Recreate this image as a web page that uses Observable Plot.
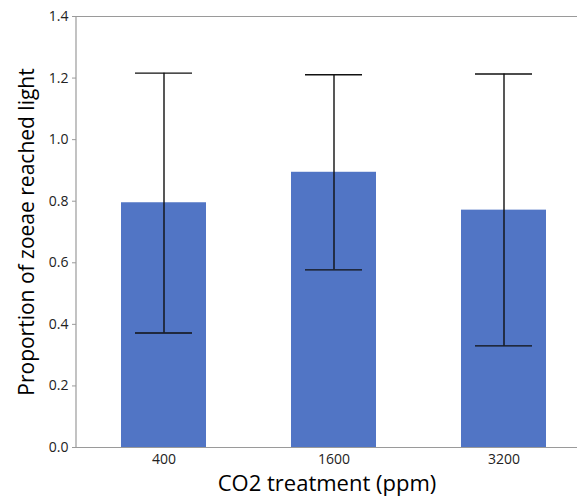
<!DOCTYPE html>
<html>
<head>
<meta charset="utf-8">
<script src="https://cdn.jsdelivr.net/npm/d3@7"></script>
<script src="https://cdn.jsdelivr.net/npm/@observablehq/plot@0.6"></script>
<style>
  html, body { margin: 0; padding: 0; background: #fff; overflow: hidden; }
  #chart svg { display: block; }
</style>
</head>
<body>
<div id="chart"></div>
<script>
const categories = ["400", "1600", "3200"];
const means = [0.795, 0.894, 0.771];
const upper = [1.216, 1.211, 1.213];
const lower = [0.372, 0.577, 0.330];
const yTicks = [0, 0.2, 0.4, 0.6, 0.8, 1.0, 1.2, 1.4];

const data = categories.map((c, i) => ({co2: c, mean: means[i], hi: upper[i], lo: lower[i]}));

const font = "'Open Sans', 'Noto Sans', sans-serif";
const axisColor = "#9a9a9a";

const leftAxisLine = (index, scales, values, dims) => {
  const g = d3.create("svg:g");
  g.append("line")
    .attr("x1", dims.marginLeft).attr("x2", dims.marginLeft)
    .attr("y1", scales.y(0)).attr("y2", scales.y(1.4))
    .attr("stroke", axisColor).attr("stroke-width", 1.2);
  return g.node();
};

const chart = Plot.plot({
  width: 577,
  height: 498,
  marginLeft: 76,
  marginRight: 0,
  marginTop: 16,
  marginBottom: 51,
  style: {fontFamily: font, background: "#fff", overflow: "hidden"},
  x: {type: "band", domain: categories, range: [77.5, 588.5], paddingInner: 0.5, paddingOuter: 0.25, label: null},
  y: {domain: [0, 1.4], label: null},
  marks: [
    Plot.barY(data, {x: "co2", y: "mean", fill: "#5175C5"}),
    Plot.ruleY([0, 1.4], {stroke: axisColor, strokeWidth: 1.2}),
    leftAxisLine,
    Plot.ruleX(data, {x: "co2", y1: "lo", y2: "hi", stroke: "#111", strokeWidth: 1.4}),
    Plot.tickY(data, {x: "co2", y: "hi", stroke: "#111", strokeWidth: 1.4, insetLeft: 14, insetRight: 14}),
    Plot.tickY(data, {x: "co2", y: "lo", stroke: "#111", strokeWidth: 1.4, insetLeft: 14, insetRight: 14}),
    Plot.axisY({ticks: yTicks, tickFormat: d => d.toFixed(1), tickSize: 4, tickPadding: 4, stroke: axisColor, color: "#222", fontSize: 14, label: null}),
    Plot.axisX({tickSize: 0, tickPadding: 7, color: "#222", fontSize: 14, label: null}),
    Plot.text(["Proportion of zoeae reached light"], {frameAnchor: "left", dx: -49, rotate: -90, fontSize: 21, fill: "#000", textAnchor: "middle"}),
    Plot.text(["CO2 treatment (ppm)"], {frameAnchor: "bottom", dy: 43, fontSize: 22, fill: "#000", textAnchor: "middle"})
  ]
});
document.getElementById("chart").append(chart);
</script>
</body>
</html>
